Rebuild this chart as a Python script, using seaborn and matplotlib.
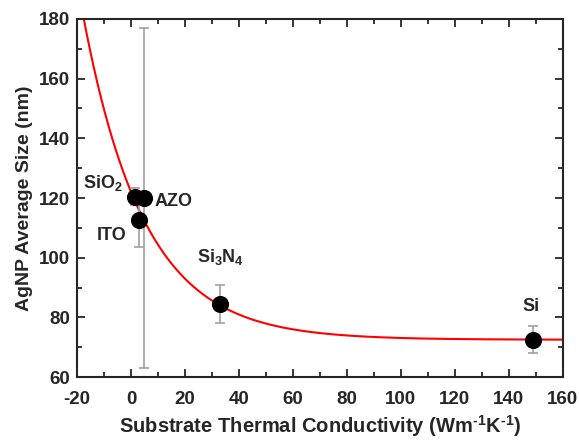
import numpy as np
import pandas as pd
import seaborn as sns
import matplotlib.pyplot as plt

# substrate data
substrates = ["SiO$_2$", "AZO", "ITO", "Si$_3$N$_4$", "Si"]
conductivity = [1.4, 5.0, 3.0, 33.0, 149.0]
size_nm = [120.5, 120.0, 112.5, 84.5, 72.5]
size_err = [3.0, 57.0, 9.0, 6.5, 4.5]

# exponential decay fit y = y0 + A*exp(-x/t)
fit_y0 = 72.5
fit_A = 49.6
fit_t = 22.6

sns.set_style("ticks")
plt.rcParams["font.family"] = ["Liberation Sans", "DejaVu Sans"]
plt.rcParams["font.weight"] = "bold"
plt.rcParams["axes.unicode_minus"] = False
plt.rcParams["mathtext.fontset"] = "custom"
plt.rcParams["mathtext.rm"] = "Liberation Sans:bold"
plt.rcParams["mathtext.it"] = "Liberation Sans:bold"
plt.rcParams["mathtext.bf"] = "Liberation Sans:bold"
plt.rcParams["mathtext.default"] = "rm"

fig = plt.figure(figsize=(5.79, 4.41), dpi=100)
ax = fig.add_axes([0.133, 0.145, 0.839, 0.812])

xfit = np.linspace(-20, 160, 400)
fit = pd.DataFrame({"x": xfit, "y": fit_y0 + fit_A * np.exp(-xfit / fit_t)})
sns.lineplot(data=fit, x="x", y="y", color="red", lw=1.5, ax=ax, zorder=2)

ax.errorbar(conductivity, size_nm, yerr=size_err, fmt="none", ecolor="#a0a0a0",
            elinewidth=1.2, capsize=3.5, capthick=1.2, zorder=3)
df = pd.DataFrame({"k": conductivity, "size": size_nm})
sns.scatterplot(data=df, x="k", y="size", color="black", s=130, edgecolor="black",
                ax=ax, zorder=4)

label_pos = {
    "SiO$_2$": (-17.8, 125.0),
    "AZO": (8.9, 118.7),
    "ITO": (-12.6, 107.6),
    "Si$_3$N$_4$": (24.4, 100.2),
    "Si": (145.2, 83.8),
}
for name in substrates:
    lx, ly = label_pos[name]
    ax.text(lx, ly, name, fontsize=13, fontweight="bold", ha="left", va="center")

ax.set_xlim(-20, 160)
ax.set_ylim(60, 180)
ax.set_xticks(np.arange(-20, 161, 20))
ax.set_yticks(np.arange(60, 181, 20))
ax.set_xticks(np.arange(-20, 161, 10), minor=True)
ax.set_yticks(np.arange(60, 181, 10), minor=True)
ax.tick_params(which="both", direction="in", top=True, right=True, width=1.3)
ax.tick_params(which="major", length=6, labelsize=13.5)
ax.tick_params(which="minor", length=3.5)
ax.tick_params(axis="x", which="major", pad=10)
ax.tick_params(axis="y", which="major", pad=5)
for lab in ax.get_xticklabels() + ax.get_yticklabels():
    lab.set_fontweight("bold")
for sp in ax.spines.values():
    sp.set_linewidth(1.5)

ax.set_xlabel("Substrate Thermal Conductivity (Wm$^{\\text{-}1}$K$^{\\text{-}1}$)",
              fontsize=14.5, fontweight="bold", labelpad=4)
ax.set_ylabel("AgNP Average Size (nm)", fontsize=14, fontweight="bold", labelpad=4)

fig.savefig("out.png", dpi=100)
